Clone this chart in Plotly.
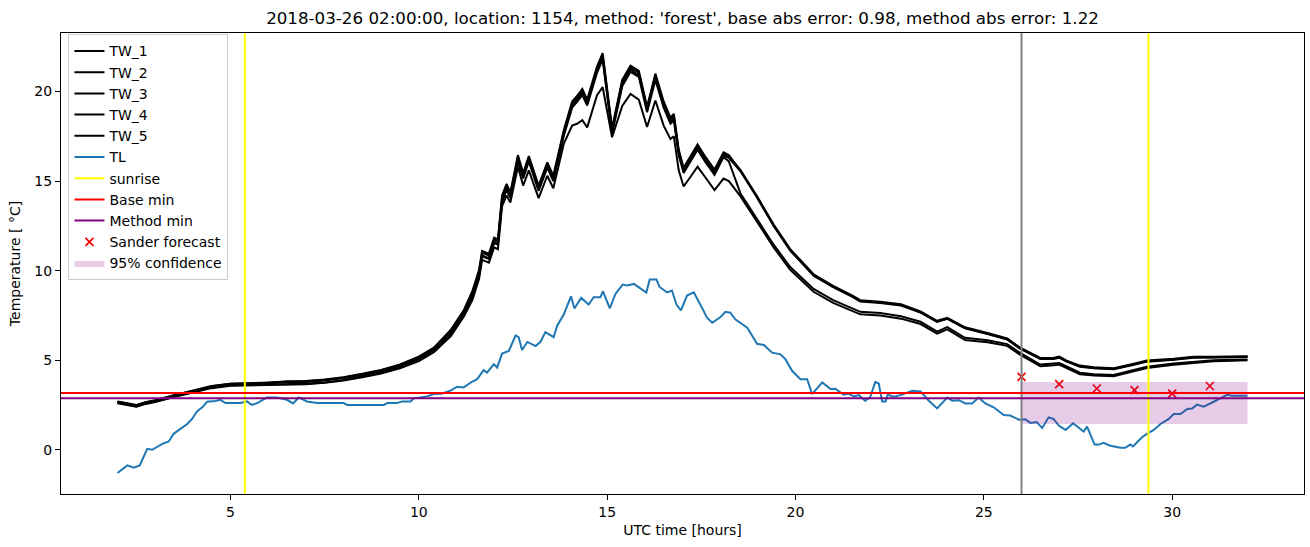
import plotly.graph_objects as go

# ---------------- data ----------------
TW_TIME = [2.0, 2.25, 2.5, 2.75, 3.0, 3.5, 4.0, 4.5, 5.0, 5.5,
           6.0, 6.5, 7.0, 7.5, 8.0, 8.5, 9.0, 9.5, 10.0, 10.4,
           10.85, 11.2, 11.42, 11.6, 11.68, 11.86, 12.0, 12.1, 12.21, 12.33,
           12.43, 12.63, 12.77, 12.92, 13.18, 13.41, 13.57, 13.85, 14.07, 14.2,
           14.34, 14.47, 14.73, 14.88, 15.13, 15.4, 15.62, 15.84, 16.06, 16.28,
           16.5, 16.68, 16.77, 16.9, 17.03, 17.2, 17.4, 17.61, 17.85, 18.09,
           18.23, 18.54, 18.98, 19.42, 19.86, 20.48, 21.0, 21.5, 21.72, 22.25,
           22.8, 23.32, 23.76, 24.03, 24.5, 25.1, 25.62, 25.95, 26.5, 26.85,
           27.0, 27.2, 27.55, 27.92, 28.45, 28.98, 29.33, 30.04, 30.57, 31.1,
           31.6, 32.0]

TW_1 = [2.68, 2.6, 2.48, 2.65, 2.75, 3.03, 3.3, 3.55, 3.68, 3.7,
        3.74, 3.82, 3.84, 3.92, 4.05, 4.24, 4.46, 4.76, 5.2, 5.7,
        6.65, 7.75, 8.75, 9.95, 11.0, 10.85, 11.75, 11.65, 14.1, 14.75,
        14.25, 16.35, 15.35, 16.3, 14.65, 15.95, 15.2, 17.75, 19.35, 19.65,
        20.05, 19.45, 21.3, 22.05, 17.85, 20.55, 21.35, 21.05, 19.05, 20.9,
        19.35, 18.45, 18.65, 16.65, 15.65, 16.25, 16.95, 16.25, 15.55, 16.55,
        16.4, 15.62, 14.15, 12.58, 11.2, 9.8, 9.15, 8.62, 8.35, 8.27,
        8.12, 7.72, 7.2, 7.37, 6.84, 6.52, 6.22, 5.72, 5.13, 5.13,
        5.2, 4.98, 4.7, 4.61, 4.55, 4.8, 4.98, 5.08, 5.2, 5.2,
        5.22, 5.22]

TW_2 = [2.62, 2.55, 2.42, 2.6, 2.7, 2.98, 3.26, 3.5, 3.64, 3.67,
        3.71, 3.78, 3.79, 3.87, 4.0, 4.18, 4.4, 4.7, 5.12, 5.62,
        6.55, 7.65, 8.62, 9.82, 10.85, 10.7, 11.62, 11.52, 13.9, 14.6,
        14.1, 16.2, 15.22, 16.18, 14.52, 15.82, 15.08, 17.62, 19.2, 19.52,
        19.92, 19.32, 21.15, 21.9, 17.72, 20.42, 21.22, 20.92, 18.95, 20.78,
        19.22, 18.32, 18.52, 16.52, 15.55, 16.12, 16.82, 16.12, 15.45, 16.45,
        16.3, 15.55, 14.08, 12.5, 11.12, 9.72, 9.08, 8.55, 8.28, 8.2,
        8.05, 7.66, 7.14, 7.31, 6.78, 6.46, 6.16, 5.66, 5.07, 5.07,
        5.14, 4.92, 4.64, 4.55, 4.49, 4.74, 4.92, 5.02, 5.14, 5.15,
        5.17, 5.18]

TW_3 = [2.7, 2.62, 2.5, 2.66, 2.76, 3.04, 3.32, 3.56, 3.69, 3.72,
        3.75, 3.8, 3.82, 3.9, 4.03, 4.22, 4.44, 4.74, 5.18, 5.68,
        6.7, 7.82, 8.85, 10.05, 11.1, 10.95, 11.85, 11.75, 14.2, 14.85,
        14.35, 16.45, 15.45, 16.4, 14.75, 16.05, 15.3, 17.85, 19.45, 19.75,
        20.15, 19.55, 21.4, 22.15, 17.95, 20.65, 21.45, 21.15, 19.15, 21.0,
        19.45, 18.55, 18.75, 16.75, 15.75, 16.35, 17.05, 16.35, 15.65, 16.6,
        16.45, 15.58, 14.1, 12.52, 11.15, 9.75, 9.1, 8.58, 8.3, 8.22,
        8.08, 7.68, 7.16, 7.33, 6.8, 6.48, 6.18, 5.68, 5.09, 5.09,
        5.16, 4.94, 4.66, 4.57, 4.51, 4.76, 4.94, 5.04, 5.16, 5.17,
        5.19, 5.2]

TW_4 = [2.64, 2.56, 2.44, 2.6, 2.7, 2.97, 3.24, 3.47, 3.6, 3.62,
        3.64, 3.66, 3.68, 3.76, 3.9, 4.1, 4.32, 4.62, 5.05, 5.55,
        6.5, 7.6, 8.55, 9.75, 10.8, 10.65, 11.55, 11.45, 13.85, 14.5,
        14.05, 16.1, 15.15, 16.1, 14.45, 15.75, 15.0, 17.55, 19.1, 19.42,
        19.8, 19.22, 21.05, 21.8, 17.65, 20.3, 21.1, 20.82, 18.85, 20.65,
        19.1, 18.2, 18.4, 16.45, 15.45, 16.05, 16.75, 16.05, 15.35, 16.35,
        16.1, 14.3, 12.85, 11.45, 10.2, 8.98, 8.35, 7.92, 7.7, 7.64,
        7.45, 7.15, 6.6, 6.85, 6.25, 6.12, 5.9, 5.42, 4.76, 4.82,
        4.85, 4.65, 4.3, 4.22, 4.17, 4.45, 4.63, 4.82, 4.91, 5.0,
        5.02, 5.04]

TW_5 = [2.6, 2.52, 2.4, 2.56, 2.66, 2.94, 3.2, 3.44, 3.58, 3.6,
        3.62, 3.64, 3.66, 3.74, 3.86, 4.05, 4.26, 4.55, 4.95, 5.45,
        6.35, 7.45, 8.35, 9.55, 10.6, 10.45, 11.3, 11.2, 13.6, 14.2,
        13.8, 15.8, 14.75, 15.6, 14.05, 15.3, 14.6, 17.1, 18.1, 18.2,
        18.4, 18.0, 19.8, 20.25, 17.45, 19.2, 19.87, 19.55, 18.02, 19.5,
        18.1, 17.35, 17.5, 15.6, 14.7, 15.2, 15.8, 15.2, 14.5, 15.14,
        15.0, 14.15, 12.7, 11.3, 10.05, 8.82, 8.2, 7.78, 7.56, 7.5,
        7.32, 7.02, 6.48, 6.72, 6.13, 6.0, 5.8, 5.32, 4.66, 4.72,
        4.76, 4.56, 4.22, 4.14, 4.1, 4.38, 4.56, 4.75, 4.85, 4.94,
        4.97, 5.0]

TL_TIME = [2.0, 2.26, 2.43, 2.59, 2.79, 2.92, 3.19, 3.36, 3.49, 3.67,
           3.85, 3.98, 4.11, 4.25, 4.38, 4.6, 4.73, 4.87, 5.26, 5.44,
           5.57, 5.71, 5.97, 6.24, 6.5, 6.66, 6.81, 7.03, 7.3, 8.0,
           8.1, 9.07, 9.16, 9.42, 9.56, 9.78, 9.87, 10.22, 10.4, 10.6,
           10.84, 11.02, 11.19, 11.42, 11.55, 11.72, 11.81, 11.99, 12.08, 12.21,
           12.39, 12.57, 12.65, 12.74, 12.88, 13.1, 13.23, 13.36, 13.58, 13.67,
           13.85, 14.04, 14.13, 14.31, 14.51, 14.64, 14.82, 14.89, 15.07, 15.22,
           15.41, 15.53, 15.71, 16.04, 16.13, 16.31, 16.39, 16.59, 16.72, 16.84,
           16.96, 17.12, 17.3, 17.52, 17.65, 17.79, 18.01, 18.14, 18.27, 18.4,
           18.72, 18.98, 19.16, 19.38, 19.6, 19.73, 19.91, 20.13, 20.31, 20.44,
           20.71, 20.93, 21.06, 21.28, 21.41, 21.55, 21.68, 21.85, 21.98, 22.12,
           22.21, 22.3, 22.39, 22.45, 22.61, 22.79, 23.1, 23.32, 23.54, 23.76,
           24.03, 24.16, 24.34, 24.51, 24.69, 24.86, 25.04, 25.26, 25.53, 25.7,
           25.93, 26.1, 26.24, 26.4, 26.55, 26.72, 26.85, 26.99, 27.17, 27.37,
           27.52, 27.65, 27.74, 27.94, 28.05, 28.18, 28.34, 28.62, 28.75, 28.89,
           28.96, 29.2, 29.33, 29.51, 29.69, 29.91, 30.04, 30.22, 30.4, 30.53,
           30.66, 30.84, 31.1, 31.28, 31.46, 31.59, 32.0]

TL = [-1.3, -0.87, -1.0, -0.87, 0.05, 0.0, 0.33, 0.46, 0.89, 1.17,
      1.44, 1.72, 2.14, 2.37, 2.68, 2.72, 2.79, 2.61, 2.61, 2.7,
      2.5, 2.61, 2.92, 2.92, 2.79, 2.59, 2.92, 2.7, 2.61, 2.61,
      2.5, 2.5, 2.61, 2.61, 2.7, 2.7, 2.87, 2.98, 3.11, 3.13,
      3.3, 3.52, 3.48, 3.81, 3.94, 4.44, 4.31, 4.78, 4.59, 5.37,
      5.52, 6.39, 6.29, 5.57, 6.02, 5.79, 6.03, 6.57, 6.29, 6.91,
      7.56, 8.57, 7.89, 8.48, 8.11, 8.52, 8.52, 8.85, 7.89, 8.7,
      9.22, 9.17, 9.26, 8.78, 9.5, 9.5, 9.09, 8.79, 8.89, 8.11,
      7.78, 8.61, 8.79, 7.92, 7.37, 7.09, 7.41, 7.7, 7.65, 7.28,
      6.81, 5.92, 5.85, 5.42, 5.33, 5.06, 4.41, 3.94, 3.94, 3.11,
      3.76, 3.39, 3.4, 3.07, 3.13, 2.98, 3.05, 2.74, 2.92, 3.79,
      3.7, 2.7, 2.7, 3.07, 2.96, 3.05, 3.29, 3.26, 2.74, 2.31,
      2.92, 2.74, 2.77, 2.59, 2.59, 2.92, 2.59, 2.37, 1.94, 1.91,
      1.68, 1.7, 1.5, 1.55, 1.22, 1.81, 1.72, 1.35, 1.11, 1.48,
      1.26, 1.02, 1.29, 0.29, 0.29, 0.39, 0.24, 0.11, 0.11, 0.29,
      0.18, 0.7, 0.89, 1.11, 1.44, 1.72, 2.0, 2.0, 2.28, 2.3,
      2.52, 2.41, 2.68, 2.89, 3.07, 3.02, 3.02]

SUNRISE = [5.38, 29.37]
FORECAST_START = 26.0
BASE_MIN = 3.17
METHOD_MIN = 2.87
SANDER_TIME = [26, 27, 28, 29, 30, 31]
SANDER_FORECAST = [4.07, 3.67, 3.42, 3.33, 3.14, 3.56]
CONF_TIME = [26.0, 32.0]
CONF_LOW = 1.44
CONF_HIGH = 3.79

TITLE = ("2018-03-26 02:00:00, location: 1154, method: 'forest', "
         "base abs error: 0.98, method abs error: 1.22")

# ---------------- figure ----------------
FONT = "DejaVu Sans"
FS = 14
fig = go.Figure()

for name, vals in [("TW_1", TW_1), ("TW_2", TW_2), ("TW_3", TW_3),
                   ("TW_4", TW_4), ("TW_5", TW_5)]:
    fig.add_trace(go.Scatter(x=TW_TIME, y=vals, mode="lines", name=name,
                             line=dict(color="black", width=2)))

fig.add_trace(go.Scatter(x=TL_TIME, y=TL, mode="lines", name="TL",
                         line=dict(color="#1f77b4", width=2)))

# legend-only entries for reference lines
for name, col in [("sunrise", "#ffff00"), ("Base min", "#ff0000"),
                  ("Method min", "#800080")]:
    fig.add_trace(go.Scatter(x=[None], y=[None], mode="lines", name=name,
                             line=dict(color=col, width=2), showlegend=True))

fig.add_trace(go.Scatter(x=SANDER_TIME, y=SANDER_FORECAST, mode="markers",
                         name="Sander forecast",
                         marker=dict(symbol="x-thin", size=8, color="#ff0000",
                                     line=dict(color="#ff0000", width=1.7))))

band_x = [CONF_TIME[0], CONF_TIME[1], CONF_TIME[1], CONF_TIME[0], CONF_TIME[0]]
band_y = [CONF_HIGH, CONF_HIGH, CONF_LOW, CONF_LOW, CONF_HIGH]
fig.add_trace(go.Scatter(x=band_x, y=band_y, mode="lines", fill="toself",
                         fillcolor="rgba(128,0,128,0.2)",
                         line=dict(width=0, color="rgba(128,0,128,0.2)"),
                         name="95% confidence"))

shapes = []
for s in SUNRISE:
    shapes.append(dict(type="line", xref="x", yref="paper", x0=s, x1=s, y0=0, y1=1,
                       line=dict(color="#ffff00", width=2), layer="above"))
shapes.append(dict(type="line", xref="x", yref="paper", x0=FORECAST_START,
                   x1=FORECAST_START, y0=0, y1=1,
                   line=dict(color="#808080", width=2), layer="above"))
shapes.append(dict(type="line", xref="paper", yref="y", x0=0, x1=1,
                   y0=BASE_MIN, y1=BASE_MIN,
                   line=dict(color="#ff0000", width=2), layer="above"))
shapes.append(dict(type="line", xref="paper", yref="y", x0=0, x1=1,
                   y0=METHOD_MIN, y1=METHOD_MIN,
                   line=dict(color="#800080", width=2), layer="above"))

axis_common = dict(showline=True, linecolor="black", linewidth=1.1, mirror=True,
                   ticks="outside", ticklen=5, tickwidth=1.1, tickcolor="black",
                   showgrid=False, zeroline=False,
                   tickfont=dict(family=FONT, size=FS, color="black"))

fig.update_layout(
    width=1310, height=547,
    margin=dict(l=61, r=6, t=33, b=53),
    paper_bgcolor="white", plot_bgcolor="white",
    font=dict(family=FONT, size=FS, color="black"),
    title=dict(text=TITLE, x=0.5, xref="paper", xanchor="center",
               y=1 - 18 / 547, yref="container", yanchor="middle",
               font=dict(family=FONT, size=16.7, color="black")),
    xaxis=dict(range=[0.5, 33.5], tickvals=[5, 10, 15, 20, 25, 30],
               title=dict(text="UTC time [hours]", standoff=6,
                          font=dict(family=FONT, size=FS)),
               **axis_common),
    yaxis=dict(range=[-2.47, 23.27], tickvals=[0, 5, 10, 15, 20],
               title=dict(text="Temperature [ °C]", standoff=10,
                          font=dict(family=FONT, size=FS)),
               **axis_common),
    legend=dict(x=0.006, y=0.997, xanchor="left", yanchor="top",
                bgcolor="rgba(255,255,255,0.8)", bordercolor="#cccccc",
                borderwidth=1, font=dict(family=FONT, size=FS),
                tracegroupgap=0),
    shapes=shapes,
    showlegend=True,
)

fig.write_html("out.html")
